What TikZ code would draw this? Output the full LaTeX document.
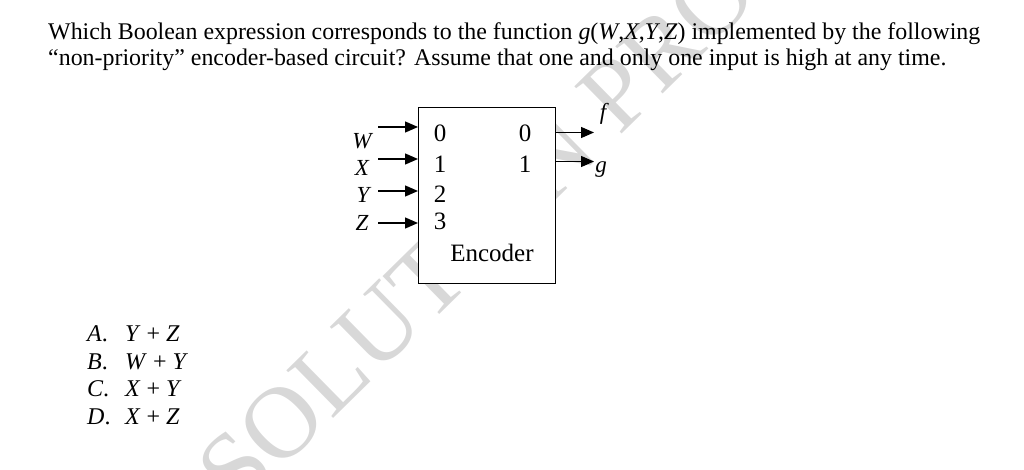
\documentclass[tikz,border=0pt]{standalone}
\usepackage{fontspec}
\setmainfont{Liberation Serif}
\usetikzlibrary{arrows.meta}
\definecolor{wmgray}{RGB}{216,216,216}
\tikzset{
  qtext/.style={anchor=base west, inner sep=0pt, font=\fontsize{23.9}{28}\selectfont},
  digit/.style={inner sep=0pt, font=\fontsize{25}{29}\selectfont},
  lbl/.style={inner sep=0pt, font=\fontsize{23}{27}\selectfont\itshape},
  sig/.style={-{Triangle[length=13pt,width=11pt]}, line width=1.3pt},
  encbox/.style={draw, line width=1.2pt, fill=white},
  opt/.style={anchor=base west, inner sep=0pt, font=\fontsize{24}{28}\selectfont},
  wmark/.style={text=wmgray, font=\fontsize{102}{102}\selectfont, inner sep=0pt, rotate=44.5, anchor=base west}
}
\newcommand{\optlab}[1]{\makebox[38pt][l]{\textit{#1}.}}
\begin{document}
\begin{tikzpicture}[x=1pt,y=-1pt]
\useasboundingbox (0,0) rectangle (1024,470);
\begin{scope}
\clip (0,0) rectangle (1024,470);
\node[wmark] (wm) at (238,512) {SOLUTION PRO};
\end{scope}
% question
\node[qtext] (q1) at (48,40) {Which Boolean expression corresponds to the function \textit{g}(\textit{W},\textit{X},\textit{Y},\textit{Z}) implemented by the following};
\node[qtext] (q2) at (48,66) {“non-priority” encoder-based circuit? Assume that one and only one input is high at any time.};
% encoder box
\node[encbox, minimum width=137pt, minimum height=176pt, anchor=north west, inner sep=0pt] (enc) at (418,107) {};
\node[digit] (i0) at (440,133.5) {0};
\node[digit] (i1) at (440,164) {1};
\node[digit] (i2) at (440,194.5) {2};
\node[digit] (i3) at (440,221.5) {3};
\node[digit] (o0) at (525,133.5) {0};
\node[digit] (o1) at (525,164) {1};
\node[digit] (encl) at (492,253) {Encoder};
% inputs
\coordinate (sw) at (378,127);
\coordinate (sx) at (378,159);
\coordinate (sy) at (378,191);
\coordinate (sz) at (378,223);
\coordinate (ew) at (enc.west |- sw);
\coordinate (ex) at (enc.west |- sx);
\coordinate (ey) at (enc.west |- sy);
\coordinate (ez) at (enc.west |- sz);
\draw[sig] (sw) -- (ew);
\draw[sig] (sx) -- (ex);
\draw[sig] (sy) -- (ey);
\draw[sig] (sz) -- (ez);
\node[lbl] (lw) at (362,141) {W};
\node[lbl] (lx) at (362,167.5) {X};
\node[lbl] (ly) at (363,195) {Y};
\node[lbl] (lz) at (362,223) {Z};
% outputs
\coordinate (sf) at (enc.east |- 0,132.5);
\coordinate (sg) at (enc.east |- 0,161.5);
\coordinate (ef) at (594,132.5);
\coordinate (eg) at (594,161.5);
\draw[sig] (sf) -- (ef);
\draw[sig] (sg) -- (eg);
\node[lbl] (lf) at (603,114) {f};
\node[lbl] (lg) at (601,170) {g};
% options
\node[opt] (oa) at (87,341.5) {\optlab{A}\textit{Y} + \textit{Z}};
\node[opt] (ob) at (87,369) {\optlab{B}\textit{W} + \textit{Y}};
\node[opt] (oc) at (87,396.5) {\optlab{C}\textit{X} + \textit{Y}};
\node[opt] (od) at (87,424) {\optlab{D}\textit{X} + \textit{Z}};
\end{tikzpicture}
\end{document}
